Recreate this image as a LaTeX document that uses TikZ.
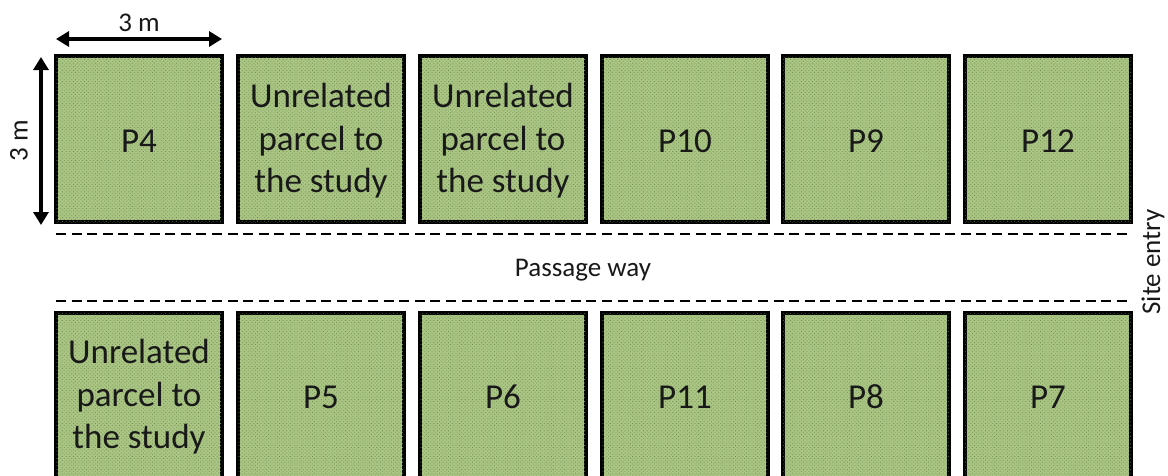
\documentclass[tikz,border=0pt]{standalone}
\usepackage{fontspec}
\setmainfont{Carlito}
\usetikzlibrary{arrows.meta,patterns.meta}
\definecolor{parcelgreen}{HTML}{A9C483}
\definecolor{parceldot}{HTML}{6F9150}
\tikzset{
  x=1pt,y=-1pt,
  parcel/.style={draw=black,line width=4.5pt,minimum width=166pt,minimum height=166pt,inner sep=0pt,align=center,
    fill=parcelgreen,
    postaction={pattern={Dots[radius=0.55pt,distance=2.6pt,angle=45]},pattern color=parceldot}},
  ptext/.style={font=\fontsize{35}{42.5}\selectfont,text=black!90,inner sep=0pt,align=center},
  dim/.style={line width=3.4pt,{Triangle[length=13pt,width=15pt]}-{Triangle[length=13pt,width=15pt]}},
  way/.style={line width=2pt,dash pattern=on 10pt off 5.6pt},
  lbl/.style={font=\fontsize{27}{32}\selectfont,text=black!90,inner sep=0pt}
}
\begin{document}
\begin{tikzpicture}
\useasboundingbox (0,0) rectangle (1168,475);
\clip (0,0) rectangle (1168,475);
\fill[white] (0,0) rectangle (1168,475);
\node[parcel] (p4) at (139,139) {};
\node[parcel] (u1) at (321,139) {};
\node[parcel] (u2) at (503,139) {};
\node[parcel] (p10) at (685,139) {};
\node[parcel] (p9) at (866,139) {};
\node[parcel] (p12) at (1048,139) {};
\node[parcel] (u3) at (139,396) {};
\node[parcel] (p5) at (321,396) {};
\node[parcel] (p6) at (503,396) {};
\node[parcel] (p11) at (685,396) {};
\node[parcel] (p8) at (866,396) {};
\node[parcel] (p7) at (1048,396) {};
\node[ptext] (tp4) at (139,141) {P4};
\node[ptext] (tu1) at (321,141) {Unrelated\\parcel to\\the study};
\node[ptext] (tu2) at (503,141) {Unrelated\\parcel to\\the study};
\node[ptext] (tp10) at (685,141) {P10};
\node[ptext] (tp9) at (866,141) {P9};
\node[ptext] (tp12) at (1048,141) {P12};
\node[ptext] (tu3) at (139,397) {Unrelated\\parcel to\\the study};
\node[ptext] (tp5) at (321,397) {P5};
\node[ptext] (tp6) at (503,397) {P6};
\node[ptext] (tp11) at (685,397) {P11};
\node[ptext] (tp8) at (866,397) {P8};
\node[ptext] (tp7) at (1048,397) {P7};
\coordinate (hl) at (56,39);
\coordinate (hr) at (222,39);
\coordinate (vt) at (41,57);
\coordinate (vb) at (41,225);
\draw[dim] (hl) -- (hr);
\draw[dim] (vt) -- (vb);
\node[lbl] (w) at (139,23) {3 m};
\node[lbl,rotate=90] (h) at (19,141) {3 m};
\coordinate (a1) at (56,234);
\coordinate (a2) at (1130,234);
\coordinate (b1) at (56,301);
\coordinate (b2) at (1130,301);
\draw[way] (a1) -- (a2);
\draw[way] (b1) -- (b2);
\node[lbl] (pw) at (583,270) {Passage way};
\node[lbl,rotate=90] (se) at (1153,262) {Site entry};
\end{tikzpicture}
\end{document}
